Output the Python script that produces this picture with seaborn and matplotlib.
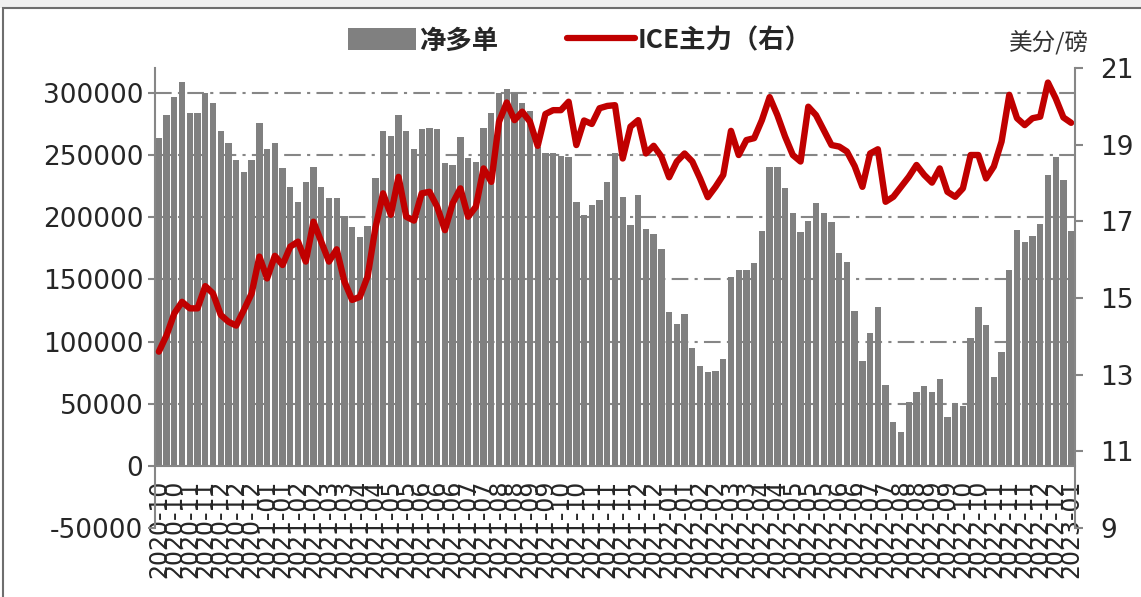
import matplotlib
matplotlib.use("Agg")
import matplotlib.pyplot as plt
from matplotlib.lines import Line2D
from matplotlib.patches import Patch, Rectangle
import numpy as np
import pandas as pd
import seaborn as sns

# weekly data, Oct 2020 - Jan 2023
dates = pd.date_range("2020-10-06", periods=119, freq="7D")

net_long = [
    263500, 282200, 297000, 309000, 283500, 283500, 299600, 291600, 269600, 259400,
    246000, 236600, 246000, 275500, 254600, 259400, 239300, 224600, 212500, 228600,
    240100, 224600, 215200, 215200, 201000, 192400, 184400, 193200, 231300, 269600,
    265300,
    282200, 269600, 254600, 270700, 271500, 270700, 243400, 242000, 264800, 247400,
    244700, 271500, 284100, 300100, 303100, 299600, 292100, 285700, 256700, 251400,
    251400, 249200, 248200, 212500, 201800, 209800, 213900, 228600, 251400, 216000,
    193800,
    217900, 190300, 186500, 174500, 124100, 114200, 122200, 94600, 80400, 75800,
    76600, 85800, 152200, 157600, 157600, 163500, 189200, 240700, 240700, 223800,
    203200, 188400, 197200, 211200, 203200, 196400, 171500, 164300, 124900, 84700,
    107200, 128100, 65100, 35600, 27600, 51700, 59700, 64300, 59700, 69700,
    39100, 50900, 48200, 102700, 128100, 113400, 71300, 91900, 157600, 189700,
    180300, 184900, 194600, 234000, 248200, 229900, 189200,
]

ice_price = [
    13.6, 14.03, 14.60, 14.90, 14.73, 14.73, 15.31, 15.12, 14.56, 14.38,
    14.28, 14.69, 15.12, 16.08, 15.51, 16.10, 15.86, 16.34, 16.47, 15.95,
    16.99, 16.47, 15.95, 16.27, 15.43, 14.95, 15.03, 15.56, 16.82, 17.73,
    17.17,
    18.16, 17.12, 17.02, 17.73, 17.77, 17.38, 16.77, 17.47, 17.86, 17.12,
    17.38, 18.38, 18.03, 19.60, 20.10, 19.64, 19.86, 19.60, 18.97, 19.80,
    19.90, 19.90, 20.12, 18.99, 19.63, 19.54, 19.95, 20.01, 20.03, 18.64,
    19.47,
    19.64, 18.77, 18.97, 18.69, 18.15, 18.56, 18.77, 18.56, 18.12, 17.63,
    17.90, 18.21, 19.36, 18.73, 19.12, 19.17, 19.64, 20.24, 19.77, 19.21,
    18.73, 18.56, 19.99, 19.77, 19.38, 18.99, 18.95, 18.82, 18.44, 17.90,
    18.77, 18.88, 17.51, 17.64, 17.90, 18.16, 18.47, 18.21, 18.01, 18.38,
    17.77, 17.64, 17.86, 18.73, 18.73, 18.12, 18.43, 19.08, 20.30, 19.69,
    19.51, 19.69, 19.73, 20.62, 20.21, 19.71, 19.57,
]

left_ticks = [-50000, 0, 50000, 100000, 150000, 200000, 250000, 300000]
right_ticks = [9, 11, 13, 15, 17, 19, 21]

sns.set_style("white")
plt.rcParams["font.family"] = ["DejaVu Sans", "Noto Sans CJK SC"]
cjk = ["Noto Sans CJK SC", "DejaVu Sans"]

bar_color = "#808080"
line_color = "#C00000"
axis_gray = "#868686"

fig = plt.figure(figsize=(11.41, 5.97), dpi=100)
ax = fig.add_axes([155 / 1141, 1 - 528 / 597, 920 / 1141, 460 / 597])

df = pd.DataFrame({"date": dates.strftime("%Y-%m-%d"), "net": net_long})
sns.barplot(data=df, x="date", y="net", color=bar_color, saturation=1,
            width=0.82, linewidth=0, ax=ax, zorder=2)

n = len(net_long)
ax.set_ylim(-50000, 320000)
ax.set_yticks(left_ticks)
ax.set_yticklabels([str(v) for v in left_ticks], fontsize=19)
ax.set_xlabel("")
ax.set_ylabel("")

# dash-dot gridlines
for v in left_ticks:
    if v > 0:
        ax.axhline(v, color=axis_gray, lw=1.5, dashes=(8, 3, 1.5, 3), zorder=1)

ax.tick_params(axis="y", length=5, width=1.5, color=axis_gray, direction="out")
ax.spines["bottom"].set_position(("data", 0))
for s in ["left", "bottom"]:
    ax.spines[s].set_color(axis_gray)
    ax.spines[s].set_linewidth(1.5)
ax.spines["top"].set_visible(False)
ax.spines["right"].set_visible(False)

ax2 = ax.twinx()
sns.lineplot(x=np.arange(n), y=ice_price, color=line_color, lw=4.6, ax=ax2)
ax2.set_ylim(9, 21)
ax2.set_yticks(right_ticks)
ax2.set_yticklabels([str(v) for v in right_ticks], fontsize=19)
ax2.tick_params(axis="y", length=6, width=1.5, color=axis_gray,
                direction="out", pad=12)
ax2.spines["right"].set_color(axis_gray)
ax2.spines["right"].set_linewidth(1.5)
for s in ["left", "top", "bottom"]:
    ax2.spines[s].set_visible(False)

# x ticks (set after the twin plot, the x axis is shared)
ax.set_xlim(-0.5, n - 0.5)
ax.set_xticks(np.arange(0, n, 2))
ax.set_xticklabels(dates[::2].strftime("%Y-%m"), rotation=90, fontsize=17)
ax.set_xticks(np.arange(-0.5, n, 2), minor=True)
ax.tick_params(axis="x", which="major", length=0, pad=10)
ax.tick_params(axis="x", which="minor", length=6, width=1.5, color=axis_gray,
               direction="out")

fig.text(1049 / 1141, 1 - 43 / 597, "美分/磅", family=cjk, fontsize=17,
         ha="center", va="center", color="#333333")

handles = [Patch(facecolor=bar_color, edgecolor="none"),
           Line2D([0], [0], color=line_color, lw=4.5)]
fig.legend(handles, ["净多单", "ICE主力（右）"], loc="center",
           bbox_to_anchor=(580 / 1141, 1 - 41 / 597), ncol=2, frameon=False,
           prop={"family": cjk, "weight": "bold", "size": 19},
           handlelength=2.6, handleheight=0.9, handletextpad=0.1,
           columnspacing=2.6)

# outer frame
fig.patches.append(Rectangle((0, 1 - 8 / 597), 1, 8 / 597, transform=fig.transFigure,
                             facecolor="#f0f0f0", edgecolor="none"))
fig.patches.append(Rectangle((3 / 1141, -0.02), 1.1, 1 - 8 / 597 + 0.02,
                             transform=fig.transFigure, facecolor="none",
                             edgecolor="#6e6e6e", lw=1.5))

fig.savefig("out.png", dpi=100)
